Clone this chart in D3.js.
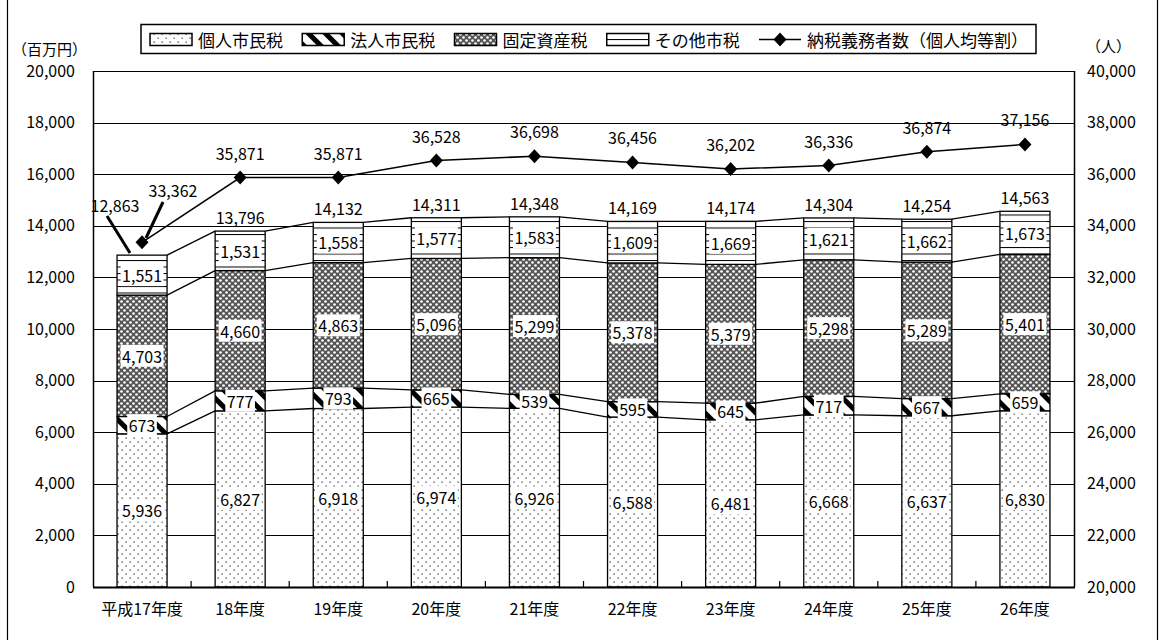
<!DOCTYPE html>
<html><head><meta charset="utf-8">
<script src="https://cdn.jsdelivr.net/npm/d3@7"></script>
<style>
body{margin:0;background:#fff}
svg{display:block}
text{font-family:"Noto Sans CJK JP","Liberation Sans",sans-serif;fill:#000}
</style>
</head><body>
<svg id="c" width="1164" height="640"></svg>
<script>
const categories = ["平成17年度","18年度","19年度","20年度","21年度","22年度","23年度","24年度","25年度","26年度"];
const kojin  = [5936,6827,6918,6974,6926,6588,6481,6668,6637,6830];
const hojin  = [673,777,793,665,539,595,645,717,667,659];
const kotei  = [4703,4660,4863,5096,5299,5378,5379,5298,5289,5401];
const sonota = [1551,1531,1558,1577,1583,1609,1669,1621,1662,1673];
const totals = [12863,13796,14132,14311,14348,14169,14174,14304,14254,14563];
const gimusha = [33362,35871,35871,36528,36698,36456,36202,36336,36874,37156];
const leftTicks = [0,2000,4000,6000,8000,10000,12000,14000,16000,18000,20000];
const rightTicks = [20000,22000,24000,26000,28000,30000,32000,34000,36000,38000,40000];
const seriesNames = ["個人市民税","法人市民税","固定資産税","その他市税"];
const lineName = "納税義務者数（個人均等割）";
const leftUnit = "（百万円）";
const rightUnit = "（人）";

const svg = d3.select("#c");
const W = 1164, H = 640;
const L = 93, R = 1074, T = 71, B = 587;
const fmt = d3.format(",");
const NUM = 16;

const x = d3.scaleBand().domain(categories).range([L, R]).paddingInner(0.49).paddingOuter(0.245);
const yL = d3.scaleLinear().domain([0, 20000]).range([B, T]);
const yR = d3.scaleLinear().domain([20000, 40000]).range([B, T]);
const bw = x.bandwidth();
const step = x.step();

// patterns
const defs = svg.append("defs");
const p1 = defs.append("pattern").attr("id","pKojin").attr("patternUnits","userSpaceOnUse").attr("width",8).attr("height",8);
p1.append("rect").attr("width",8).attr("height",8).attr("fill","#fff");
p1.append("rect").attr("x",1.5).attr("y",1.5).attr("width",1.3).attr("height",1.3).attr("fill","#444");
p1.append("rect").attr("x",5.5).attr("y",5.5).attr("width",1.3).attr("height",1.3).attr("fill","#444");

const p2 = defs.append("pattern").attr("id","pHojin").attr("patternUnits","userSpaceOnUse").attr("width",12).attr("height",12).attr("patternTransform","rotate(-45)");
p2.append("rect").attr("width",12).attr("height",12).attr("fill","#fff");
p2.append("rect").attr("width",5).attr("height",12).attr("fill","#000");

const p3 = defs.append("pattern").attr("id","pKotei").attr("patternUnits","userSpaceOnUse").attr("width",6).attr("height",6);
p3.append("rect").attr("width",6).attr("height",6).attr("fill","#555");
p3.append("circle").attr("cx",1.5).attr("cy",1.5).attr("r",1.35).attr("fill","#fff");
p3.append("circle").attr("cx",4.5).attr("cy",4.5).attr("r",1.35).attr("fill","#fff");

const p4 = defs.append("pattern").attr("id","pSonota").attr("patternUnits","userSpaceOnUse").attr("width",10).attr("height",6.5);
p4.append("rect").attr("width",10).attr("height",6.5).attr("fill","#fff");
p4.append("rect").attr("y",0).attr("width",10).attr("height",1).attr("fill","#000");

const fills = ["url(#pKojin)","url(#pHojin)","url(#pKotei)","url(#pSonota)"];

// outer border
svg.append("rect").attr("x",7.5).attr("y",-10).attr("width",1150).attr("height",H+20).attr("fill","none").attr("stroke","#000").attr("stroke-width",1.2);

// gridlines
svg.append("g").selectAll("line").data(leftTicks).join("line")
  .attr("x1",L).attr("x2",R).attr("y1",d=>Math.round(yL(d))+0.5).attr("y2",d=>Math.round(yL(d))+0.5)
  .attr("stroke","#000").attr("stroke-width",1);

// data table
const keys = ["kojin","hojin","kotei","sonota"];
const table = categories.map((c,i)=>({cat:c,kojin:kojin[i],hojin:hojin[i],kotei:kotei[i],sonota:sonota[i]}));
const stacked = d3.stack().keys(keys)(table);

// series lines between bars
const sl = svg.append("g");
stacked.forEach(layer=>{
  for(let i=0;i<layer.length-1;i++){
    sl.append("line")
      .attr("x1",x(categories[i])+bw).attr("y1",yL(layer[i][1]))
      .attr("x2",x(categories[i+1])).attr("y2",yL(layer[i+1][1]))
      .attr("stroke","#000").attr("stroke-width",1.3);
  }
});

// bars
const bars = svg.append("g");
stacked.forEach((layer,k)=>{
  bars.selectAll(null).data(layer).join("rect")
    .attr("x",d=>x(d.data.cat)).attr("width",bw)
    .attr("y",d=>yL(d[1])).attr("height",d=>yL(d[0])-yL(d[1]))
    .attr("fill",fills[k]).attr("stroke","#000").attr("stroke-width",1.3);
});

// value labels with white boxes
const vl = svg.append("g");
stacked.forEach((layer,k)=>{
  layer.forEach(d=>{
    const cx = x(d.data.cat)+bw/2;
    const cy = (yL(d[0])+yL(d[1]))/2;
    const g = vl.append("g");
    const t = g.append("text").attr("x",cx).attr("y",cy).attr("text-anchor","middle")
      .attr("dominant-baseline","central").attr("font-size",NUM).text(fmt(d[1]-d[0]));
    const w = t.node().getComputedTextLength();
    g.insert("rect","text").attr("x",cx-w/2-1.5).attr("y",cy-11).attr("width",w+3).attr("height",22).attr("fill","#fff");
  });
});

// total labels
svg.append("g").selectAll("text").data(totals).join("text")
  .attr("x",(d,i)=> i===0 ? 115 : x(categories[i])+bw/2)
  .attr("y",(d,i)=> i===0 ? 205 : yL(d)-14)
  .attr("text-anchor","middle").attr("dominant-baseline","central").attr("font-size",NUM)
  .text(d=>fmt(d));

// line series
const lineGen = d3.line().x((d,i)=>x(categories[i])+bw/2).y(d=>yR(d));
svg.append("path").attr("d",lineGen(gimusha)).attr("fill","none").attr("stroke","#000").attr("stroke-width",1.5);
svg.append("g").selectAll("path").data(gimusha).join("path")
  .attr("transform",(d,i)=>`translate(${x(categories[i])+bw/2},${yR(d)})`)
  .attr("d","M0,-7L6.5,0L0,7L-6.5,0Z").attr("fill","#000");
svg.append("g").selectAll("text").data(gimusha).join("text")
  .attr("x",(d,i)=> i===0 ? 173 : x(categories[i])+bw/2)
  .attr("y",(d,i)=> i===0 ? 190 : yR(d)-25)
  .attr("text-anchor","middle").attr("dominant-baseline","central").attr("font-size",NUM)
  .text(d=>fmt(d));

// leader lines for first bar
svg.append("line").attr("x1",107).attr("y1",216).attr("x2",130).attr("y2",253).attr("stroke","#000").attr("stroke-width",3);
svg.append("line").attr("x1",163).attr("y1",202).attr("x2",146).attr("y2",238).attr("stroke","#000").attr("stroke-width",3);

// plot frame
svg.append("line").attr("x1",L+0.5).attr("x2",L+0.5).attr("y1",T).attr("y2",B).attr("stroke","#000").attr("stroke-width",1.5);
svg.append("line").attr("x1",R+0.5).attr("x2",R+0.5).attr("y1",T).attr("y2",B).attr("stroke","#000").attr("stroke-width",1.5);
svg.append("line").attr("x1",L).attr("x2",R+1).attr("y1",B+0.5).attr("y2",B+0.5).attr("stroke","#000").attr("stroke-width",2);

// axes
const ax = svg.append("g").attr("transform",`translate(75,0)`)
  .call(d3.axisLeft(yL).tickValues(leftTicks).tickSize(0).tickPadding(0).tickFormat(fmt));
ax.select(".domain").remove();
ax.selectAll("text").attr("font-size",NUM).attr("font-family",'"Noto Sans CJK JP",sans-serif').attr("fill","#000");

const axr = svg.append("g").attr("transform",`translate(1087,0)`)
  .call(d3.axisRight(yR).tickValues(rightTicks).tickSize(0).tickPadding(0).tickFormat(fmt));
axr.select(".domain").remove();
axr.selectAll("text").attr("font-size",NUM).attr("font-family",'"Noto Sans CJK JP",sans-serif').attr("fill","#000");

const axb = svg.append("g").attr("transform",`translate(0,${B})`)
  .call(d3.axisBottom(x).tickSize(0).tickPadding(17));
axb.select(".domain").remove();
axb.selectAll("text").attr("font-size",16).attr("font-family",'"Noto Sans CJK JP",sans-serif').attr("fill","#000");

// category boundary ticks (inward)
const bounds = categories.slice(1).map(c=>x(c)-(step-bw)/2);
svg.append("g").selectAll("line").data(bounds).join("line")
  .attr("x1",d=>d).attr("x2",d=>d).attr("y1",B).attr("y2",B-6).attr("stroke","#000").attr("stroke-width",1.2);

// unit labels
svg.append("text").attr("x",12).attr("y",48).attr("dominant-baseline","central").attr("font-size",15).text(leftUnit);
svg.append("text").attr("x",1086).attr("y",45).attr("dominant-baseline","central").attr("font-size",15).text(rightUnit);

// legend
const lg = svg.append("g");
lg.append("rect").attr("x",141).attr("y",24.5).attr("width",895).attr("height",29).attr("fill","#fff").attr("stroke","#000").attr("stroke-width",1.5);
const LF = 17, SW = 42, G1 = 6;
const items = seriesNames.map((n,k)=>({name:n, fill:fills[k], type:"rect"})).concat([{name:lineName,type:"line"}]);
// measure
const widths = items.map(it=>{
  const t = lg.append("text").attr("font-size",LF).text(it.name);
  const w = t.node().getComputedTextLength(); t.remove(); return SW+G1+w;
});
const startX = 150, endX = 1028;
const gap = (endX - startX - d3.sum(widths)) / (items.length-1);
let cx0 = startX;
items.forEach((it,k)=>{
  if(it.type==="rect"){
    lg.append("rect").attr("x",cx0).attr("y",33.5).attr("width",SW).attr("height",12).attr("fill",it.fill).attr("stroke","#000").attr("stroke-width",1.5);
  } else {
    lg.append("line").attr("x1",cx0).attr("x2",cx0+SW).attr("y1",39.5).attr("y2",39.5).attr("stroke","#000").attr("stroke-width",1.5);
    lg.append("path").attr("transform",`translate(${cx0+SW/2},39.5)`).attr("d","M0,-7L6.5,0L0,7L-6.5,0Z").attr("fill","#000");
  }
  lg.append("text").attr("x",cx0+SW+G1).attr("y",39.5).attr("dominant-baseline","central").attr("font-size",LF).text(it.name);
  cx0 += widths[k] + gap;
});
</script>
</body></html>
